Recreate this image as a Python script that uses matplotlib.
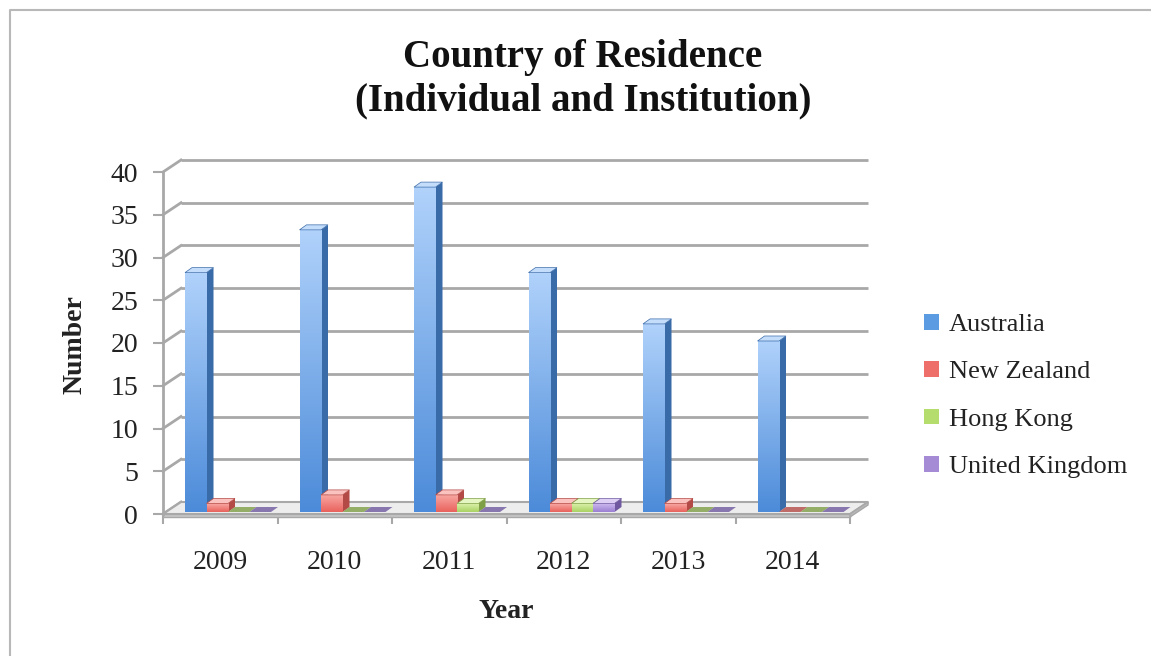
import numpy as np
import matplotlib.pyplot as plt
from matplotlib.patches import Polygon, Patch
from matplotlib.colors import LinearSegmentedColormap
from matplotlib.lines import Line2D

years = ['2009', '2010', '2011', '2012', '2013', '2014']
series = ['Australia', 'New Zealand', 'Hong Kong', 'United Kingdom']
australia = [28, 33, 38, 28, 22, 20]
new_zealand = [1, 2, 2, 1, 1, 0]
hong_kong = [0, 0, 1, 1, 0, 0]
united_kingdom = [0, 0, 0, 1, 0, 0]
values = [australia, new_zealand, hong_kong, united_kingdom]

# light (top of front face), dark (bottom), side face, top face, legend swatch
colours = [
    ('#b0d2fb', '#4c8bd9', '#3a6ba9', '#c4ddfb', '#5b9be2'),
    ('#f9aaa6', '#e9625c', '#b44a45', '#fbc3c0', '#ee6f6a'),
    ('#ddf2ad', '#a9d263', '#7e9f45', '#e6f6c2', '#b5dd6e'),
    ('#cfbcef', '#9a7ed2', '#6f589f', '#ddd0f4', '#a58ad6'),
]

plt.rcParams['font.family'] = ['Liberation Serif', 'DejaVu Serif']

W, H = 1151, 656
fig = plt.figure(figsize=(W / 100, H / 100), dpi=100)
ax = fig.add_axes([163 / W, 1 - 514 / H, 687 / W, 342 / H])
x0, x1 = -0.5, len(years) - 0.5
ax.set_xlim(x0, x1)
ax.set_ylim(0, 40)
ax.patch.set_visible(False)

# data units per pixel
ux = (x1 - x0) / 687
uy = 40 / 342

# back wall gridlines (pseudo 3D)
DX, DY = 18 * ux, 12 * uy
grid_c = '#a8a8a8'
for v in range(0, 45, 5):
    ax.plot([x0 + DX, x1 + DX], [v + DY, v + DY], color=grid_c, lw=2,
            clip_on=False, zorder=1, solid_capstyle='butt')
    ax.plot([x0, x0 + DX], [v, v + DY], color=grid_c, lw=2,
            clip_on=False, zorder=1)

# floor
slab = 3 * uy
ax.add_patch(Polygon([(x0, 0), (x1, 0), (x1 + DX, DY), (x0 + DX, DY)],
                     closed=True, fc='#ededed', ec='#a8a8a8', lw=1.5,
                     clip_on=False, zorder=2))
ax.add_patch(Polygon([(x0, 0), (x1, 0), (x1, -slab), (x0, -slab)],
                     closed=True, fc='#c8c8c8', ec='#a8a8a8', lw=1,
                     clip_on=False, zorder=2))
ax.add_patch(Polygon([(x1, 0), (x1 + DX, DY), (x1 + DX, DY - slab), (x1, -slab)],
                     closed=True, fc='#b8b8b8', ec='#a8a8a8', lw=1,
                     clip_on=False, zorder=2))

# bars
bw = 21.5 * ux
start = 22 * ux
by = 2 * uy
ddx, ddy = 7 * ux, 5 * uy
grad = np.linspace(0, 1, 128).reshape(-1, 1)
for i, vals in enumerate(values):
    light, dark, side, top, _ = colours[i]
    cmap = LinearSegmentedColormap.from_list(series[i], [dark, light])
    z = 3 + i
    for j, v in enumerate(vals):
        l = j + x0 + start + i * bw
        r = l + bw
        t = by + v
        if v > 0:
            bar = ax.bar(l, v, width=bw, bottom=by, align='edge', color=dark,
                         zorder=z, clip_on=False)[0]
            im = ax.imshow(grad, extent=(l, r, by, t), origin='lower',
                           cmap=cmap, aspect='auto', zorder=z + 0.01,
                           interpolation='bilinear')
            im.set_clip_path(bar)
            ax.add_patch(Polygon([(r, by), (r + ddx, by + ddy), (r + ddx, t + ddy), (r, t)],
                                 closed=True, fc=side, ec='none', zorder=z,
                                 clip_on=False))
            ax.add_patch(Polygon([(l, t), (r, t), (r + ddx, t + ddy), (l + ddx, t + ddy)],
                                 closed=True, fc=top, ec=side, lw=0.5,
                                 zorder=z + 0.02, clip_on=False))
        else:
            ax.add_patch(Polygon([(l, t), (r, t), (r + ddx, t + ddy), (l + ddx, t + ddy)],
                                 closed=True, fc=side, ec='none', alpha=0.8,
                                 zorder=z, clip_on=False))

ax.set_xlim(x0, x1)
ax.set_ylim(0, 40)

# axes & ticks
for s in ['top', 'right', 'bottom']:
    ax.spines[s].set_visible(False)
ax.spines['left'].set_color(grid_c)
ax.spines['left'].set_linewidth(2)
ax.set_yticks(range(0, 45, 5))
ax.tick_params(axis='y', length=7, width=1.5, color=grid_c, pad=11,
               labelsize=20, labelcolor='#222222')
ax.set_xticks(range(len(years)))
ax.set_xticklabels(years)
ax.tick_params(axis='x', which='major', length=0, pad=26, labelsize=20,
               labelcolor='#222222')
ax.set_xticks(np.arange(x0, x1 + 0.5, 1), minor=True)
ax.tick_params(axis='x', which='minor', length=7, width=1.5, color=grid_c)

# texts
fig.text(583 / W, 1 - 79 / H, 'Country of Residence\n(Individual and Institution)',
         ha='center', va='center', fontsize=28, fontweight='bold',
         linespacing=1.25, color='#111111')
fig.text(75 / W, 1 - 345 / H, 'Number', rotation=90, ha='center', va='center',
         fontsize=20, fontweight='bold', color='#222222')
fig.text(506 / W, 1 - 612 / H, 'Year', ha='center', va='center',
         fontsize=20, fontweight='bold', color='#222222')

handles = [Patch(facecolor=c[4], edgecolor='none') for c in colours]
fig.legend(handles, series, loc='center left',
           bbox_to_anchor=(924 / W, 1 - 396 / H), frameon=False, fontsize=19,
           handlelength=0.55, handleheight=0.55, handletextpad=0.4,
           labelspacing=0.95, borderpad=0, borderaxespad=0,
           labelcolor='#222222')

# chart frame
fig.add_artist(Line2D([10 / W, 10 / W, 1], [0, 1 - 10 / H, 1 - 10 / H],
                      color='#b8b8b8', lw=1.5))

fig.savefig('out.png', dpi=100)
